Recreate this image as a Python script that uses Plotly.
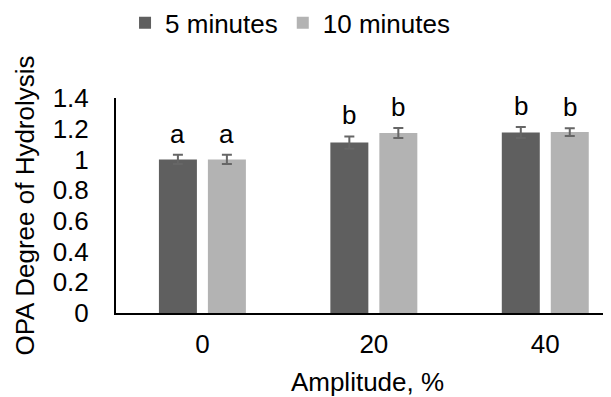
import plotly.graph_objects as go

# ---- data ----
amplitudes = ["0", "20", "40"]
series_names = ["5 minutes", "10 minutes"]
values_5min = [1.00, 1.11, 1.175]
errors_5min = [0.03, 0.04, 0.036]
values_10min = [1.00, 1.172, 1.178]
errors_10min = [0.03, 0.032, 0.025]
letters_5min = ["a", "b", "b"]
letters_10min = ["a", "b", "b"]
y_ticks = [0, 0.2, 0.4, 0.6, 0.8, 1.0, 1.2, 1.4]
y_ticktext = ["0", "0.2", "0.4", "0.6", "0.8", "1", "1.2", "1.4"]

FONT = "Liberation Sans, Arial, sans-serif"
DARK = "#5f5f5f"
LIGHT = "#b3b3b3"
ERR = "#666666"

xpos = list(range(len(amplitudes)))
BARGAP = 0.4286
slot = (1 - BARGAP) / 2

fig = go.Figure()
for name, vals, errs, col in [
    (series_names[0], values_5min, errors_5min, DARK),
    (series_names[1], values_10min, errors_10min, LIGHT),
]:
    fig.add_trace(go.Bar(
        x=xpos, y=vals, name=name,
        marker=dict(color=col, line=dict(width=0)),
        error_y=dict(type="data", array=errs, visible=True,
                     color=ERR, thickness=2, width=5),
    ))

annotations = []
for k, (vals, errs, lets) in enumerate([
    (values_5min, errors_5min, letters_5min),
    (values_10min, errors_10min, letters_10min),
]):
    off = (k - 0.5) * slot
    for i, (v, e, t) in enumerate(zip(vals, errs, lets)):
        annotations.append(dict(
            x=xpos[i] + off, y=v + e, xref="x", yref="y",
            text=t, showarrow=False, yanchor="bottom", yshift=4,
            font=dict(family=FONT, size=26, color="black"),
        ))

fig.update_layout(
    width=611, height=397,
    margin=dict(l=108, r=0, t=90, b=92, autoexpand=False),
    paper_bgcolor="white", plot_bgcolor="white",
    barmode="group", bargap=BARGAP, bargroupgap=0.2245,
    font=dict(family=FONT, size=26, color="black"),
    showlegend=True,
    legend=dict(orientation="h", x=0.346, xanchor="center",
                y=1.35, yanchor="middle",
                font=dict(family=FONT, size=26, color="black"),
                bgcolor="rgba(0,0,0,0)"),
    annotations=annotations,
)
fig.update_xaxes(
    range=[-0.504, 2.43], tickvals=xpos, ticktext=amplitudes,
    showline=True, linecolor="black", linewidth=2,
    showgrid=False, zeroline=False, ticks="",
    ticklabelstandoff=7,
    title=dict(text="Amplitude, %", standoff=15,
               font=dict(family=FONT, size=26, color="black")),
    tickfont=dict(family=FONT, size=26, color="black"),
)
fig.update_yaxes(
    range=[0, 1.4], tickvals=y_ticks, ticktext=y_ticktext,
    showline=True, linecolor="black", linewidth=2,
    showgrid=False, zeroline=False, ticks="",
    ticklabelstandoff=20,
    title=dict(text="OPA Degree of Hydrolysis", standoff=11,
               font=dict(family=FONT, size=26, color="black")),
    tickfont=dict(family=FONT, size=26, color="black"),
)

fig.write_html("out.html")
